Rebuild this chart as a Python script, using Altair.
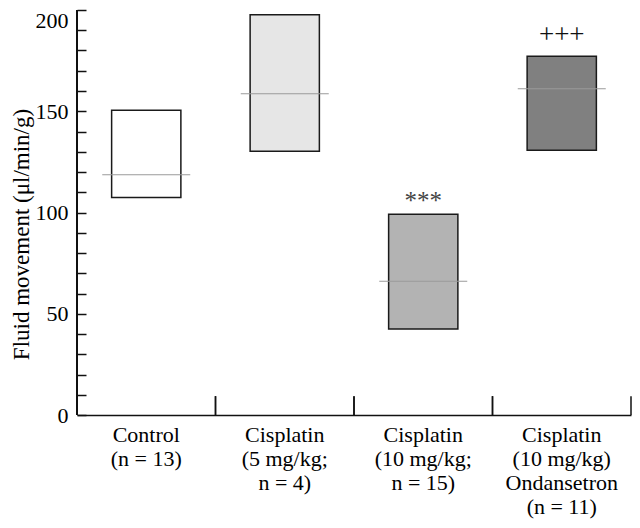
import altair as alt
import pandas as pd

# ---- data ----
groups = [
    "Control|(n = 13)",
    "Cisplatin|(5 mg/kg;|n = 4)",
    "Cisplatin|(10 mg/kg;|n = 15)",
    "Cisplatin|(10 mg/kg)|Ondansetron|(n = 11)",
]
lows = [107.4, 130.3, 42.5, 130.8]
highs = [150.5, 197.7, 99.1, 177.1]
medians = [118.7, 158.6, 66.1, 161.1]
fills = ["#ffffff", "#e6e6e6", "#b3b3b3", "#808080"]

ann_groups = [groups[2], groups[3]]
ann_text = ["***", "+++"]
ann_y = [101.8, 183.5]
ann_colors = ["#444444", "#111111"]
ann_sizes = [25, 27]

y_tick_values = [0, 10, 20, 30, 40, 50, 60, 70, 80, 90, 100,
                 110, 120, 130, 140, 150, 160, 170, 180, 190, 200]

FONT = "Liberation Serif, Times New Roman, Times, DejaVu Serif, serif"
W, H = 554, 405

df = pd.DataFrame({"group": groups, "low": lows, "high": highs, "median": medians})
ann = pd.DataFrame({"group": ann_groups, "text": ann_text, "y": ann_y,
                    "color": ann_colors, "size": ann_sizes})

xscale = alt.Scale(domain=groups, paddingInner=0, paddingOuter=0)
yscale = alt.Scale(domain=[0, 200], nice=False, zero=True)

xaxis = alt.Axis(
    title=None, labelExpr="split(datum.label, '|')", labelAngle=0,
    labelFont=FONT, labelFontSize=22, labelLineHeight=24, labelColor="black",
    labelPadding=9, labelBaseline="top", ticks=False, tickSize=0,
    domain=True, domainColor="#111111", domainWidth=1.5, grid=False,
)
yaxis = alt.Axis(
    title="Fluid movement (μl/min/g)", values=y_tick_values, format="d",
    labelExpr="datum.value % 50 == 0 ? datum.label : ''",
    offset=-9, tickSize=9, tickColor="#111111", tickWidth=1.5,
    domain=False, grid=False,
    labelFont=FONT, labelFontSize=22, labelPadding=9, labelColor="black",
    labelBaseline={"condition": {"test": "datum.value == 200", "value": "top"}, "value": "middle"},
    titleFont=FONT, titleFontSize=23, titleFontWeight="normal", titleColor="black",
    titlePadding=2, titleY=224,
)


def X(bp=None):
    if bp is None:
        return alt.X("group:N", sort=groups, scale=xscale, axis=xaxis)
    return alt.X("group:N", sort=groups, scale=xscale, axis=xaxis, bandPosition=bp)


base = alt.Chart(df)

bars = base.mark_bar(stroke="#1a1a1a", strokeWidth=1.5,
                     width=alt.RelativeBandSize(0.5)).encode(
    x=X(),
    y=alt.Y("low:Q", scale=yscale, axis=yaxis),
    y2="high:Q",
    color=alt.Color("group:N", scale=alt.Scale(domain=groups, range=fills), legend=None),
)

medline = base.mark_tick(size=88, thickness=1, color="#9a9a9a", opacity=1).encode(
    x=X(),
    y=alt.Y("median:Q", scale=yscale, axis=yaxis),
)

seps = base.mark_rule(color="#111111", strokeWidth=1.5).encode(
    x=X(0),
    y=alt.YDatum(0, scale=yscale, axis=yaxis),
    y2=alt.Y2Datum(9.3),
)
seps_end = base.mark_rule(color="#111111", strokeWidth=1.5).encode(
    x=X(1),
    y=alt.YDatum(0, scale=yscale, axis=yaxis),
    y2=alt.Y2Datum(9.3),
)
yline = base.mark_rule(color="#111111", strokeWidth=1.5).encode(
    x=alt.value(0),
    y=alt.YDatum(0, scale=yscale, axis=yaxis),
    y2=alt.Y2Datum(200),
)

txt = alt.Chart(ann).mark_text(font=FONT, baseline="alphabetic", align="center").encode(
    x=X(),
    y=alt.Y("y:Q", scale=yscale, axis=yaxis),
    text="text:N",
    color=alt.Color("color:N", scale=None),
    size=alt.Size("size:Q", scale=None),
)

chart = alt.layer(bars, medline, seps, seps_end, yline, txt).properties(
    width=W, height=H,
    padding={"left": 69, "top": 2, "right": 1, "bottom": 104},
    autosize=alt.AutoSizeParams(type="none"),
).configure_view(stroke=None).configure_axis(
    labelFont=FONT, titleFont=FONT
).configure_text(font=FONT)

chart.save("out.html", embed_options={"renderer": "svg", "actions": False})
